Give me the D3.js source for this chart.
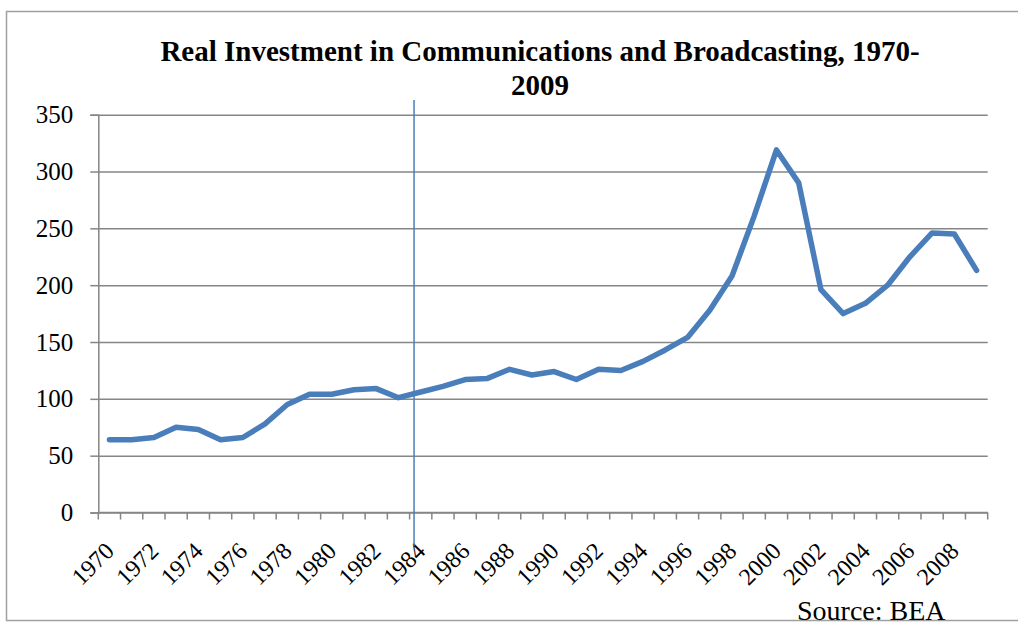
<!DOCTYPE html>
<html>
<head>
<meta charset="utf-8">
<script src="https://cdn.jsdelivr.net/npm/d3@7"></script>
<style>
  body { margin: 0; background: #fff; }
  text { font-family: "Liberation Serif", "Times New Roman", serif; fill: #000; }
</style>
</head>
<body>
<script>
// yearly data
var years = d3.range(1970, 2010);
var investment = [64, 64, 66, 75, 73, 64, 66, 78, 95, 104,
                  104, 108, 109, 101, 106, 111, 117, 118, 126, 121,
                  124, 117, 126, 125, 133, 143, 154, 178, 208, 261,
                  319, 290, 196, 175, 184, 200, 225, 246, 245, 213];
var yTicks = [0, 50, 100, 150, 200, 250, 300, 350];
var labelYears = years.filter(function(d) { return d % 2 === 0; });
var markerYear = 1984;

var width = 1018, height = 622;
var plotLeft = 98.3, plotRight = 987.7, plotTop = 114.7, plotBottom = 512.5;

var svg = d3.select("body").append("svg")
  .attr("width", width)
  .attr("height", height);

// outer frame of the picture
svg.append("rect")
  .attr("x", 6.5).attr("y", 11.5)
  .attr("width", 1030).attr("height", 609)
  .attr("fill", "none")
  .attr("stroke", "#a0a0a0")
  .attr("stroke-width", 1.5);

var x = d3.scaleBand().domain(years).range([plotLeft, plotRight]);
var y = d3.scaleLinear().domain([0, 350]).range([plotBottom, plotTop]);

// horizontal grid
svg.append("g")
  .attr("transform", "translate(" + plotLeft + ",0)")
  .call(d3.axisLeft(y).tickValues(yTicks).tickSize(-(plotRight - plotLeft)).tickFormat(""))
  .call(function(g) {
    g.select(".domain").remove();
    g.selectAll("line").attr("stroke", "#868686").attr("stroke-width", 1.5);
  });

// y axis with labels
svg.append("g")
  .attr("transform", "translate(" + plotLeft + ",0)")
  .call(d3.axisLeft(y).tickValues(yTicks).tickSize(8).tickPadding(17))
  .call(function(g) {
    g.select(".domain").attr("stroke", "#868686").attr("stroke-width", 1.5);
    g.selectAll("line").attr("stroke", "#868686").attr("stroke-width", 1.5);
    g.selectAll("text").style("font-size", "25px")
      .style("font-family", "'Liberation Serif', serif").attr("fill", "#000");
  });

// x axis: ticks between categories
var xAxis = svg.append("g").attr("transform", "translate(0," + plotBottom + ")");
xAxis.append("line")
  .attr("x1", plotLeft).attr("x2", plotRight)
  .attr("stroke", "#868686").attr("stroke-width", 1.5);
xAxis.selectAll("line.tick")
  .data(years.concat([2010]))
  .enter().append("line")
  .attr("class", "tick")
  .attr("x1", function(d) { return d === 2010 ? plotRight : x(d); })
  .attr("x2", function(d) { return d === 2010 ? plotRight : x(d); })
  .attr("y1", 0).attr("y2", 7)
  .attr("stroke", "#868686").attr("stroke-width", 1.5);

xAxis.selectAll("text")
  .data(labelYears)
  .enter().append("text")
  .attr("transform", function(d) {
    return "translate(" + (x(d) + x.bandwidth() / 2 + 6) + ",40) rotate(-45)";
  })
  .attr("text-anchor", "end")
  .style("font-size", "24px")
  .text(function(d) { return d; });

// the series line
var line = d3.line()
  .x(function(d, i) { return x(years[i]) + x.bandwidth() / 2; })
  .y(function(d) { return y(d); });

svg.append("path")
  .datum(investment)
  .attr("d", line)
  .attr("fill", "none")
  .attr("stroke", "#4a7ebb")
  .attr("stroke-width", 5.5)
  .attr("stroke-linejoin", "round")
  .attr("stroke-linecap", "round");

// vertical marker line
svg.append("line")
  .attr("x1", x(markerYear) + x.bandwidth() * 0.2)
  .attr("x2", x(markerYear) + x.bandwidth() * 0.2)
  .attr("y1", 100).attr("y2", 546)
  .attr("stroke", "#4a7ebb")
  .attr("stroke-width", 1.5);

// title
var title = svg.append("text")
  .attr("text-anchor", "middle")
  .style("font-size", "29px")
  .style("font-weight", "bold");
title.append("tspan").attr("x", 540).attr("y", 61)
  .text("Real Investment in Communications and Broadcasting, 1970-");
title.append("tspan").attr("x", 540).attr("y", 95).text("2009");

svg.append("text")
  .attr("x", 797).attr("y", 620)
  .style("font-size", "28px")
  .text("Source: BEA");
</script>
</body>
</html>
